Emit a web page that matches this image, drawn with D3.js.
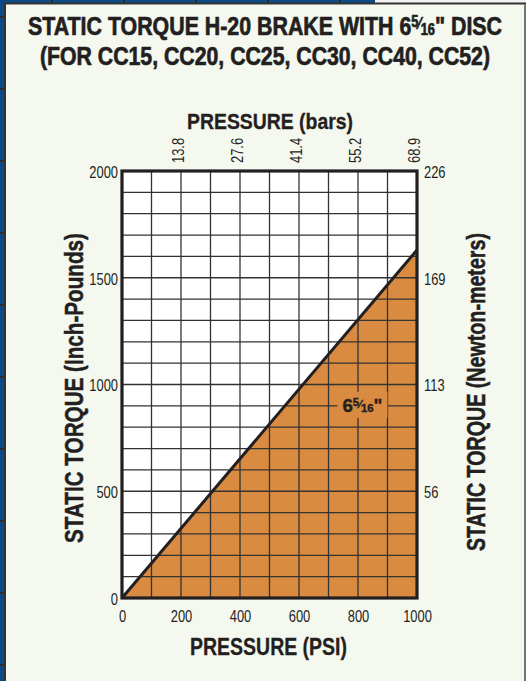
<!DOCTYPE html>
<html>
<head>
<meta charset="utf-8">
<script src="https://cdn.jsdelivr.net/npm/d3@7/dist/d3.min.js"></script>
<style>
  html, body { margin: 0; padding: 0; background: #0b4a84; }
  svg { display: block; }
  text { font-family: "Liberation Sans Narrow", "Arial Narrow", "Liberation Sans", Arial, sans-serif; fill: #231f20; }
  .heavy { font-weight: bold; stroke: #231f20; stroke-width: 0.7px; }
</style>
</head>
<body>
<script>
// Brake data: static torque (inch-pounds) against line pressure (psi)
const pressurePsi = [0, 1000];
const torqueInLb = [0, 1630];

// Axis ticks
const psiTicks = [0, 200, 400, 600, 800, 1000];
const torqueTicks = [0, 500, 1000, 1500, 2000];
const barTickPsi = [200, 400, 600, 800, 1000];
const barTickLabels = ["13.8", "27.6", "41.4", "55.2", "68.9"];
const nmTickTorque = [500, 1000, 1500, 2000];
const nmTickLabels = ["56", "113", "169", "226"];

const W = 526, H = 681;
const svg = d3.select("body").append("svg").attr("width", W).attr("height", H);

// Page frame with the blue backing grid
svg.append("rect").attr("width", W).attr("height", H).attr("fill", "#0b4a84");
const frameStep = 72;
svg.append("g").selectAll("line").data(d3.range(17, H, frameStep)).join("line")
  .attr("x1", 0).attr("x2", 6).attr("y1", d => d).attr("y2", d => d)
  .attr("stroke", "#2b2b2b").attr("stroke-width", 2);
svg.append("g").selectAll("line").data(d3.range(52, 375, frameStep)).join("line")
  .attr("x1", d => d).attr("x2", d => d).attr("y1", 0).attr("y2", 4)
  .attr("stroke", "#2b2b2b").attr("stroke-width", 2);
svg.append("rect").attr("x", 375).attr("y", 0).attr("width", W - 375).attr("height", 3).attr("fill", "#f2f2f2");
svg.append("rect").attr("x", 5).attr("y", 3.5).attr("width", 520).attr("height", H)
  .attr("fill", "#f5f8ef").attr("stroke", "#333").attr("stroke-width", 2);
svg.append("line").attr("x1", 525).attr("x2", 525).attr("y1", 4).attr("y2", H)
  .attr("stroke", "#8a8f88").attr("stroke-width", 1.5);

// 6 5/16 written with a raised numerator and a small denominator
function fraction(t, big) {
  t.append("tspan").text("6");
  t.append("tspan").attr("font-size", big * 0.6).attr("dy", -big * 0.32).text("5");
  t.append("tspan").attr("font-size", big * 0.6).attr("dy", big * 0.1).text("\u2044");
  t.append("tspan").attr("font-size", big * 0.6).attr("dy", big * 0.22).text("16");
}
const t1 = svg.append("text").attr("class", "heavy").attr("x", 265).attr("y", 35).attr("text-anchor", "middle")
  .attr("font-size", 26)
  .attr("textLength", 474).attr("lengthAdjust", "spacingAndGlyphs");
t1.append("tspan").text("STATIC TORQUE H-20 BRAKE WITH ");
fraction(t1, 26);
t1.append("tspan").text("\" DISC");
svg.append("text").attr("class", "heavy").attr("x", 265).attr("y", 65).attr("text-anchor", "middle")
  .attr("font-size", 26)
  .attr("textLength", 450).attr("lengthAdjust", "spacingAndGlyphs")
  .text("(FOR CC15, CC20, CC25, CC30, CC40, CC52)");

// Plot area
const x = d3.scaleLinear().domain([0, 1000]).range([122, 417]);
const y = d3.scaleLinear().domain([0, 2000]).range([598, 171]);

svg.append("rect").attr("x", x(0)).attr("y", y(2000))
  .attr("width", x(1000) - x(0)).attr("height", y(0) - y(2000)).attr("fill", "#ffffff");

const pts = pressurePsi.map((p, i) => [p, torqueInLb[i]]);
const area = d3.area().x(d => x(d[0])).y0(y(0)).y1(d => y(d[1]));
svg.append("path").datum(pts).attr("d", area).attr("fill", "#d98b41");

// Grid every 100 psi and every 100 in-lb
const grid = svg.append("g").attr("stroke", "#333").attr("stroke-width", 1.3);
grid.selectAll(".gx").data(d3.range(100, 1000, 100)).join("line")
  .attr("x1", d => x(d)).attr("x2", d => x(d)).attr("y1", y(0)).attr("y2", y(2000));
grid.selectAll(".gy").data(d3.range(100, 2000, 100)).join("line")
  .attr("x1", x(0)).attr("x2", x(1000)).attr("y1", d => y(d)).attr("y2", d => y(d));

// Torque line
svg.append("path").datum(pts).attr("d", d3.line().x(d => x(d[0])).y(d => y(d[1])))
  .attr("fill", "none").attr("stroke", "#231f20").attr("stroke-width", 3);

// Series label on an orange patch
const lx = x(815), ly = y(900);
svg.append("rect").attr("x", lx - 25).attr("y", ly - 14).attr("width", 50).attr("height", 26).attr("fill", "#d98b41");
const lt = svg.append("text").attr("class", "heavy").attr("x", lx).attr("y", ly + 6).attr("text-anchor", "middle")
  .attr("font-size", 19).style("stroke-width", "0.4px")
  .attr("textLength", 40).attr("lengthAdjust", "spacingAndGlyphs");
fraction(lt, 19);
lt.append("tspan").text("\"");

// Frame
svg.append("rect").attr("x", x(0)).attr("y", y(2000))
  .attr("width", x(1000) - x(0)).attr("height", y(0) - y(2000))
  .attr("fill", "none").attr("stroke", "#231f20").attr("stroke-width", 3.2);

// Bottom axis (psi)
const axBottom = svg.append("g").attr("transform", `translate(0,${y(0)})`)
  .call(d3.axisBottom(x).tickValues(psiTicks).tickSize(0).tickPadding(12).tickFormat(d3.format("d")));
// Left axis (in-lb)
const axLeft = svg.append("g").attr("transform", `translate(${x(0)},0)`)
  .call(d3.axisLeft(y).tickValues(torqueTicks).tickSize(0).tickPadding(4).tickFormat(d3.format("d")));
// Right axis (N-m)
const axRight = svg.append("g").attr("transform", `translate(${x(1000)},0)`)
  .call(d3.axisRight(y).tickValues(nmTickTorque).tickSize(0).tickPadding(7)
    .tickFormat((d, i) => nmTickLabels[i]));
// Top axis (bars), rotated labels
const axTop = svg.append("g").attr("transform", `translate(0,${y(2000)})`)
  .call(d3.axisTop(x).tickValues(barTickPsi).tickSize(0).tickFormat((d, i) => barTickLabels[i]));
axTop.selectAll(".tick text").attr("transform", "translate(2,-8) rotate(-90)")
  .attr("x", 0).attr("y", 0).attr("dy", 0).attr("text-anchor", "start");

[axBottom, axLeft, axRight, axTop].forEach(g => {
  g.select(".domain").remove();
  g.selectAll(".tick text").attr("font-size", 17).attr("fill", "#231f20")
    .attr("font-family", "'Liberation Sans Narrow','Arial Narrow','Liberation Sans',Arial,sans-serif")
    .each(function () {
      // condensed numerals
      const w = this.getComputedTextLength();
      d3.select(this).attr("textLength", w * 0.76).attr("lengthAdjust", "spacingAndGlyphs");
    });
});
axRight.selectAll(".tick text").attr("dy", "0.38em");
axLeft.selectAll(".tick text").attr("dy", "0.38em");

// Axis titles
svg.append("text").attr("class", "heavy").attr("x", 270).attr("y", 129).attr("text-anchor", "middle")
  .attr("font-size", 22).style("stroke-width", "0.3px")
  .attr("textLength", 166).attr("lengthAdjust", "spacingAndGlyphs").text("PRESSURE (bars)");
svg.append("text").attr("class", "heavy").attr("x", 268.5).attr("y", 655).attr("text-anchor", "middle")
  .attr("font-size", 24).style("stroke-width", "0.3px")
  .attr("textLength", 157).attr("lengthAdjust", "spacingAndGlyphs").text("PRESSURE (PSI)");
svg.append("text").attr("class", "heavy").attr("transform", "translate(83,388) rotate(-90)").attr("text-anchor", "middle")
  .attr("font-size", 26).style("stroke-width", "0.5px")
  .attr("textLength", 310).attr("lengthAdjust", "spacingAndGlyphs").text("STATIC TORQUE (Inch-Pounds)");
svg.append("text").attr("class", "heavy").attr("transform", "translate(485,392) rotate(-90)").attr("text-anchor", "middle")
  .attr("font-size", 25).style("stroke-width", "0.5px")
  .attr("textLength", 318).attr("lengthAdjust", "spacingAndGlyphs").text("STATIC TORQUE (Newton-meters)");
</script>
</body>
</html>
